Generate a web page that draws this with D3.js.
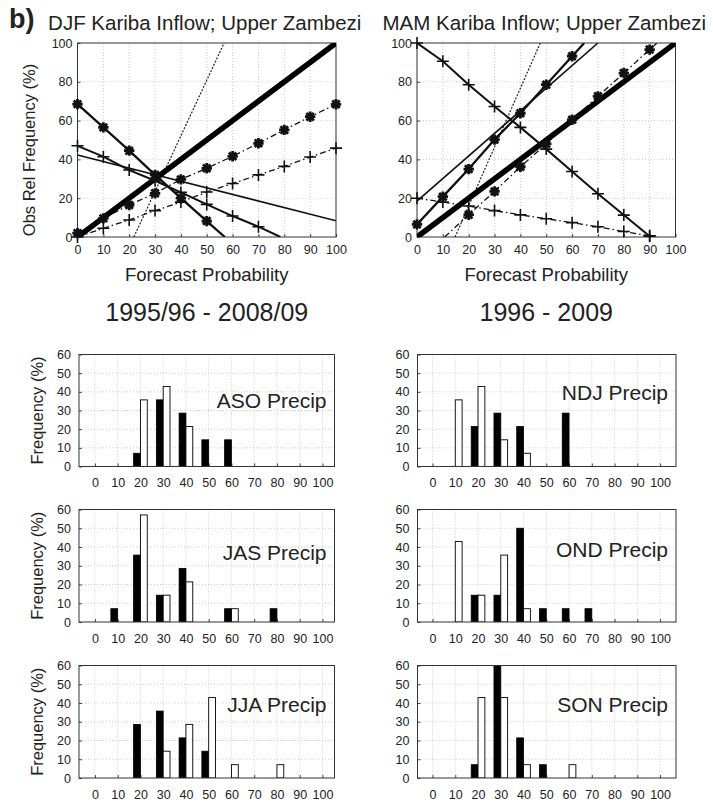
<!DOCTYPE html>
<html>
<head>
<meta charset="utf-8">
<script src="https://cdn.jsdelivr.net/npm/d3@7/dist/d3.min.js"></script>
<style>
  body { margin: 0; background: #fff; }
  svg { display: block; }
  text { font-family: "Liberation Sans", Arial, Helvetica, sans-serif; fill: #222; }
</style>
</head>
<body>
<svg id="fig" width="713" height="802"></svg>
<script>
// ---------- data ----------
// forecast probability bins (%)
const probBins = [0, 10, 20, 30, 40, 50, 60, 70, 80, 90, 100];
const relTicks = [0, 20, 40, 60, 80, 100];
const freqTicks = [0, 10, 20, 30, 40, 50, 60];

// reliability lines: observed relative frequency (%) at each probability bin (null = no marker)
// DJF
const djfAboveA = [68.5, 56.5, 44.5, 32, 20, 8.2, null, null, null, null, null];
const djfAboveAEnds = [[57, 0]];
const djfAboveB = [2, 9.6, 16.5, 22.5, 29.7, 35.4, 41.6, 48.3, 55.2, 62, 68.4];
const djfAboveBEnds = [];
const djfBelowA = [47, 41.4, 34.5, 29, 23, 16.8, 10.8, 5.3, null, null, null];
const djfBelowAEnds = [[78.5, 0]];
const djfBelowB = [0, 4.5, 8.8, 13.6, 18, 23.2, 27.6, 32, 36.4, 41.2, 45.8];
const djfBelowBEnds = [];
const djfNormalLine = [[0, 42.3], [100, 8.4]];
const djfSteepLine = [[21.8, 0], [56.7, 100]];

// MAM
const mamAboveA = [6.5, 20.8, 35, 50.2, 63.8, 78.5, 93.2, null, null, null, null];
const mamAboveAEnds = [[64.7, 100]];
const mamAboveB = [null, null, 11.5, 23.5, 36.2, 48, 60.4, 72.5, 84.5, 96.6, null];
const mamAboveBEnds = [[10.7, 0], [92.8, 100]];
const mamBelowA = [100, 90.6, 78.5, 67.3, 56.5, 45.3, 33.8, 22.3, 11.3, 0.4, null];
const mamBelowAEnds = [];
const mamBelowB = [20, 18, 16, 13.6, 11.4, 9.4, 7.4, 5.3, 2.8, 0.6, null];
const mamBelowBEnds = [[93, 0]];
const mamNormalLine = [[0, 18.5], [70, 100]];
const mamSteepLine = [[14.7, 0], [47.7, 100]];

const perfectLine = [[0, 0], [100, 100]];

// forecast frequency histograms (%), per probability bin
const asoBlack = [0, 0, 7.1, 35.7, 28.6, 14.3, 14.3, 0, 0, 0, 0];
const asoWhite = [0, 0, 35.7, 42.9, 21.4, 0, 0, 0, 0, 0, 0];
const ndjBlack = [0, 0, 21.4, 28.6, 21.4, 0, 28.6, 0, 0, 0, 0];
const ndjWhite = [0, 35.7, 42.9, 14.3, 7.1, 0, 0, 0, 0, 0, 0];
const jasBlack = [0, 7.1, 35.7, 14.3, 28.6, 0, 7.1, 0, 7.1, 0, 0];
const jasWhite = [0, 0, 57.1, 14.3, 21.4, 0, 7.1, 0, 0, 0, 0];
const ondBlack = [0, 0, 14.3, 14.3, 50, 7.1, 7.1, 7.1, 0, 0, 0];
const ondWhite = [0, 42.9, 14.3, 35.7, 7.1, 0, 0, 0, 0, 0, 0];
const jjaBlack = [0, 0, 28.6, 35.7, 21.4, 14.3, 0, 0, 0, 0, 0];
const jjaWhite = [0, 0, 0, 14.3, 28.6, 42.9, 7.1, 0, 7.1, 0, 0];
const sonBlack = [0, 0, 7.1, 64.3, 21.4, 7.1, 0, 0, 0, 0, 0];
const sonWhite = [0, 0, 42.9, 42.9, 7.1, 0, 7.1, 0, 0, 0, 0];

// ---------- drawing ----------
const svg = d3.select("#fig");
const defs = svg.append("defs");
const GRID = "#bdbdbd";

function starPath(r) {
  const d = r * 0.72;
  return `M${-r},0H${r}M0,${-r}V${r}M${-d},${-d}L${d},${d}M${-d},${d}L${d},${-d}`;
}
function plusPath(r) {
  return `M${-r},0H${r}M0,${-r}V${r}`;
}

const lineStyles = {
  aboveA: { w: 2.3, dash: null, marker: "star" },
  aboveB: { w: 1.3, dash: "6,3,1.5,3", marker: "star" },
  belowA: { w: 2.0, dash: null, marker: "plus" },
  belowB: { w: 1.3, dash: "6,3,1.5,3", marker: "plus" }
};

const relPanels = [
  {
    id: "djf", left: 77.5, right: 336, title: "DJF Kariba Inflow; Upper Zambezi", period: "1995/96 - 2008/09",
    series: { aboveA: [djfAboveA, djfAboveAEnds], aboveB: [djfAboveB, djfAboveBEnds],
              belowA: [djfBelowA, djfBelowAEnds], belowB: [djfBelowB, djfBelowBEnds] },
    normal: djfNormalLine, steep: djfSteepLine
  },
  {
    id: "mam", left: 417, right: 675.5, title: "MAM Kariba Inflow; Upper Zambezi", period: "1996 - 2009",
    series: { aboveA: [mamAboveA, mamAboveAEnds], aboveB: [mamAboveB, mamAboveBEnds],
              belowA: [mamBelowA, mamBelowAEnds], belowB: [mamBelowB, mamBelowBEnds] },
    normal: mamNormalLine, steep: mamSteepLine
  }
];

const relTop = 43, relBottom = 237;

relPanels.forEach((p, i) => {
  const x = d3.scaleLinear().domain([0, 100]).range([p.left, p.right]);
  const y = d3.scaleLinear().domain([0, 100]).range([relBottom, relTop]);
  const g = svg.append("g");
  const clipId = "clip-" + p.id;
  defs.append("clipPath").attr("id", clipId).append("rect")
    .attr("x", p.left).attr("y", relTop)
    .attr("width", p.right - p.left).attr("height", relBottom - relTop);

  // grid
  g.append("g").selectAll("line").data(probBins.slice(1, -1)).join("line")
    .attr("x1", d => x(d)).attr("x2", d => x(d)).attr("y1", relTop).attr("y2", relBottom)
    .attr("stroke", GRID).attr("stroke-width", 0.8).attr("stroke-dasharray", "1,2");
  g.append("g").selectAll("line").data(relTicks.slice(1, -1)).join("line")
    .attr("y1", d => y(d)).attr("y2", d => y(d)).attr("x1", p.left).attr("x2", p.right)
    .attr("stroke", GRID).attr("stroke-width", 0.8).attr("stroke-dasharray", "1,2");

  // axes
  const ax = g.append("g").attr("transform", `translate(0,${relBottom})`)
    .call(d3.axisBottom(x).tickValues(probBins).tickSize(-3).tickPadding(8.5));
  const ay = g.append("g").attr("transform", `translate(${p.left},0)`)
    .call(d3.axisLeft(y).tickValues(relTicks).tickSize(-3).tickPadding(5));
  [ax, ay].forEach(a => {
    a.select(".domain").remove();
    a.selectAll("line").attr("stroke", "#444");
    a.selectAll("text").style("font-size", "12.5px").attr("fill", "#222");
  });
  g.append("rect").attr("x", p.left).attr("y", relTop)
    .attr("width", p.right - p.left).attr("height", relBottom - relTop)
    .attr("fill", "none").attr("stroke", "#333").attr("stroke-width", 1);

  const lines = g.append("g").attr("clip-path", `url(#${clipId})`);
  const lineGen = d3.line().x(d => x(d[0])).y(d => y(d[1]));

  // steep dotted line and unmarked regression line
  lines.append("path").attr("d", lineGen(p.steep)).attr("fill", "none")
    .attr("stroke", "#222").attr("stroke-width", 1.2).attr("stroke-dasharray", "2,1.5");
  lines.append("path").attr("d", lineGen(p.normal)).attr("fill", "none")
    .attr("stroke", "#111").attr("stroke-width", 1.6);

  // perfect reliability diagonal
  lines.append("path").attr("d", lineGen(perfectLine)).attr("fill", "none")
    .attr("stroke", "#000").attr("stroke-width", 5.5);

  const marks = g.append("g");
  Object.entries(p.series).forEach(([key, [vals, ends]]) => {
    const st = lineStyles[key];
    const pts = probBins.map((b, j) => [b, vals[j]]).filter(d => d[1] != null);
    const verts = pts.concat(ends).sort((a, b) => a[0] - b[0]);
    const path = lines.append("path").attr("d", lineGen(verts)).attr("fill", "none")
      .attr("stroke", "#111").attr("stroke-width", st.w);
    if (st.dash) path.attr("stroke-dasharray", st.dash);
    marks.selectAll(null).data(pts).join("path")
      .attr("transform", d => `translate(${x(d[0])},${y(d[1])})`)
      .attr("d", st.marker === "star" ? starPath(5.2) : plusPath(6))
      .attr("fill", "none").attr("stroke", "#111")
      .attr("stroke-width", st.marker === "star" ? 2.8 : 1.6);
  });

  const cx = (p.left + p.right) / 2;
  svg.append("text").attr("x", cx - 2).attr("y", 30).attr("text-anchor", "middle")
    .style("font-size", "20.5px").text(p.title);
  svg.append("text").attr("x", cx).attr("y", 281).attr("text-anchor", "middle")
    .style("font-size", "18.5px").text("Forecast Probability");
  svg.append("text").attr("x", cx).attr("y", 321).attr("text-anchor", "middle")
    .style("font-size", "25px").text(p.period);
  if (i === 0) {
    svg.append("text").attr("transform", "translate(35,150) rotate(-90)")
      .attr("text-anchor", "middle").style("font-size", "16.5px").text("Obs Rel Frequency (%)");
  }
});

svg.append("text").attr("x", 9).attr("y", 28).style("font-size", "27px")
  .style("font-weight", "bold").text("b)");

// histogram panels
const cols = [
  { left: 79, right: 334.5, domain: [-7, 105.3] },
  { left: 417.5, right: 676, domain: [-6.6, 107] }
];
const rows = [
  { top: 354.5, bottom: 466.5 },
  { top: 509.5, bottom: 622 },
  { top: 665.5, bottom: 778 }
];
const histPanels = [
  { name: "ASO Precip", black: asoBlack, white: asoWhite, col: 0, row: 0, labelDy: 53.5 },
  { name: "NDJ Precip", black: ndjBlack, white: ndjWhite, col: 1, row: 0, labelDy: 45.5 },
  { name: "JAS Precip", black: jasBlack, white: jasWhite, col: 0, row: 1, labelDy: 50.5 },
  { name: "OND Precip", black: ondBlack, white: ondWhite, col: 1, row: 1, labelDy: 47 },
  { name: "JJA Precip", black: jjaBlack, white: jjaWhite, col: 0, row: 2, labelDy: 46 },
  { name: "SON Precip", black: sonBlack, white: sonWhite, col: 1, row: 2, labelDy: 46 }
];
const barW = 3;

histPanels.forEach((p, i) => {
  const c = cols[p.col], r = rows[p.row];
  const x = d3.scaleLinear().domain(c.domain).range([c.left, c.right]);
  const y = d3.scaleLinear().domain([0, 60]).range([r.bottom, r.top]);
  const g = svg.append("g");
  const clipId = "hclip-" + i;
  defs.append("clipPath").attr("id", clipId).append("rect")
    .attr("x", c.left).attr("y", r.top).attr("width", c.right - c.left).attr("height", r.bottom - r.top);

  g.append("g").selectAll("line").data(probBins).join("line")
    .attr("x1", d => x(d)).attr("x2", d => x(d)).attr("y1", r.top).attr("y2", r.bottom)
    .attr("stroke", GRID).attr("stroke-width", 0.8).attr("stroke-dasharray", "1,2");
  g.append("g").selectAll("line").data(freqTicks.slice(1, -1)).join("line")
    .attr("y1", d => y(d)).attr("y2", d => y(d)).attr("x1", c.left).attr("x2", c.right)
    .attr("stroke", GRID).attr("stroke-width", 0.8).attr("stroke-dasharray", "1,2");

  const ax = g.append("g").attr("transform", `translate(0,${r.bottom})`)
    .call(d3.axisBottom(x).tickValues(probBins).tickSize(-3).tickPadding(12));
  const ay = g.append("g").attr("transform", `translate(${c.left},0)`)
    .call(d3.axisLeft(y).tickValues(freqTicks).tickSize(-3).tickPadding(8));
  [ax, ay].forEach(a => {
    a.select(".domain").remove();
    a.selectAll("line").attr("stroke", "#444");
    a.selectAll("text").style("font-size", "12.5px").attr("fill", "#222");
  });

  const bars = g.append("g").attr("clip-path", `url(#${clipId})`);
  bars.selectAll(".b").data(probBins.map((b, j) => [b, p.black[j]]).filter(d => d[1] > 0)).join("rect")
    .attr("x", d => x(d[0] - barW)).attr("width", d => x(d[0]) - x(d[0] - barW))
    .attr("y", d => y(d[1])).attr("height", d => y(0) - y(d[1]))
    .attr("fill", "#000").attr("stroke", "#000").attr("stroke-width", 0.8);
  bars.selectAll(".w").data(probBins.map((b, j) => [b, p.white[j]]).filter(d => d[1] > 0)).join("rect")
    .attr("x", d => x(d[0])).attr("width", d => x(d[0] + barW) - x(d[0]))
    .attr("y", d => y(d[1])).attr("height", d => y(0) - y(d[1]))
    .attr("fill", "#fff").attr("stroke", "#000").attr("stroke-width", 0.9);

  g.append("rect").attr("x", c.left).attr("y", r.top)
    .attr("width", c.right - c.left).attr("height", r.bottom - r.top)
    .attr("fill", "none").attr("stroke", "#333").attr("stroke-width", 1);

  g.append("text").attr("x", c.right - 8).attr("y", r.top + p.labelDy)
    .attr("text-anchor", "end").style("font-size", "21px").text(p.name);

  if (p.col === 0) {
    g.append("text").attr("transform", `translate(43,${(r.top + r.bottom) / 2}) rotate(-90)`)
      .attr("text-anchor", "middle").style("font-size", "16.5px").text("Frequency (%)");
  }
});
</script>
</body>
</html>
